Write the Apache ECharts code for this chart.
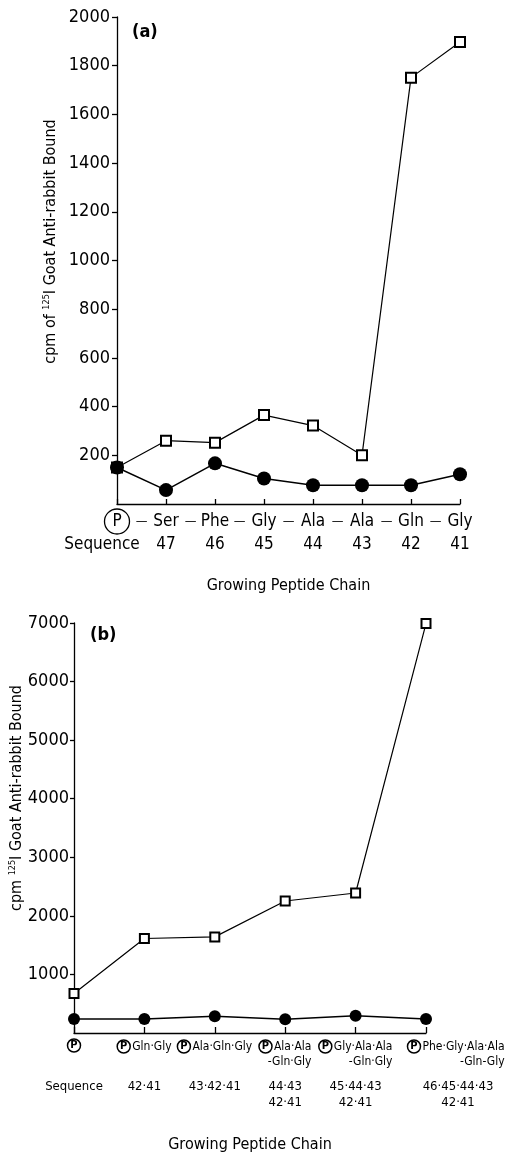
<!DOCTYPE html>
<html><head><meta charset="utf-8">
<script src="https://cdn.jsdelivr.net/npm/echarts@6/dist/echarts.min.js"></script>
<style>html,body{margin:0;padding:0;background:#fff}#c{width:507px;height:1153px}</style>
</head><body><div id="c"></div>
<script>
// ---- Panel (a) data ----
const residuesA = ['P','Ser','Phe','Gly','Ala','Ala','Gln','Gly'];
const dashesA = ['—','—','—','—','—','—','—'];
const sequenceA = ['Sequence','47','46','45','44','43','42','41'];
const squaresA = [150,260,252,365,322,200,1751,1897];
const circlesA = [150,57,167,105,77,77,77,122];
const yTicksA = [0,200,400,600,800,1000,1200,1400,1600,1800,2000];

// ---- Panel (b) data ----
const peptideLine1B = ['','Gln·Gly','Ala·Gln·Gly','Ala·Ala','Gly·Ala·Ala','Phe·Gly·Ala·Ala'];
const peptideLine2B = ['','','','-Gln·Gly','-Gln·Gly','-Gln-Gly'];
const sequenceLine1B = ['Sequence','42·41','43·42·41','44·43','45·44·43','46·45·44·43'];
const sequenceLine2B = ['','','','42·41','42·41','42·41'];
const squaresB = [676,1613,1641,2254,2390,6990];
const circlesB = [238,238,284,233,295,238];
const yTicksB = [0,1000,2000,3000,4000,5000,6000,7000];

const F = "'Liberation Sans Narrow','DejaVu Sans Condensed','Roboto Condensed',sans-serif";
const K = '#000';

const chart = echarts.init(document.getElementById('c'), null, {renderer:'canvas'});
const lastB = peptideLine1B.length - 1;
const plain = v => String(v);

const option = {
  backgroundColor:'#fff',
  animation:false,
  title:[
    {text:'(a)', left:127, top:18, textStyle:{fontFamily:F, fontSize:18, fontWeight:'bold', color:K}},
    {text:'(b)', left:85, top:621, textStyle:{fontFamily:F, fontSize:18, fontWeight:'bold', color:K}}
  ],
  grid:[
    {left:117, right:47, top:17, height:487, outerBoundsMode:'none', containLabel:false},
    {left:74, right:81, top:623, height:410, outerBoundsMode:'none', containLabel:false}
  ],
  xAxis:[
    { // A main
      type:'category', gridIndex:0, position:'bottom', data:residuesA, boundaryGap:false,
      axisLine:{onZero:false, lineStyle:{color:K, width:1.3}},
      axisTick:{inside:true, length:5, lineStyle:{color:K, width:1.3}, interval:0},
      axisLabel:{interval:0, margin:5, color:K, fontFamily:F, fontSize:17, lineHeight:26,
        formatter:(v,i)=> i===0 ? '{c|P}' : v,
        rich:{c:{width:25, height:25, lineHeight:25, align:'center', borderColor:K, borderWidth:1.3, borderRadius:12.5, fontFamily:F, fontSize:17, color:K}}},
      name:'Growing Peptide Chain', nameLocation:'middle', nameGap:74, nameMoveOverlap:false,
      nameTextStyle:{fontFamily:F, fontSize:16, color:K},
      splitLine:{show:false}
    },
    { // A dashes between residues
      type:'category', gridIndex:0, position:'bottom', data:dashesA, boundaryGap:true,
      axisLine:{show:false, onZero:false}, axisTick:{show:false},
      axisLabel:{interval:0, margin:5, color:K, fontFamily:F, fontSize:13, lineHeight:26},
      splitLine:{show:false}
    },
    { // A sequence row
      type:'category', gridIndex:0, position:'bottom', data:sequenceA, boundaryGap:false,
      axisLine:{show:false, onZero:false}, axisTick:{show:false},
      axisLabel:{interval:0, margin:31, color:K, fontFamily:F, fontSize:17, lineHeight:20,
        formatter:(v,i)=> i===0 ? '{s|'+v+'}' : v,
        rich:{s:{padding:[0,30,0,0], fontFamily:F, fontSize:17, color:K}}},
      splitLine:{show:false}
    },
    { // B main
      type:'category', gridIndex:1, position:'bottom', data:peptideLine1B, boundaryGap:false,
      axisLine:{onZero:false, lineStyle:{color:K, width:1.3}},
      axisTick:{inside:true, length:6, lineStyle:{color:K, width:1.3}, interval:0},
      axisLabel:{interval:0, margin:6, color:K, fontFamily:F, fontSize:12, lineHeight:15,
        formatter:(v,i)=>{
          let s = (i===lastB ? '{sp| }' : '') + '{c|P}' + (peptideLine1B[i] ? '{t|'+peptideLine1B[i]+'}' : '');
          if (peptideLine2B[i]) s += '\n{r|'+peptideLine2B[i]+'}';
          return s;
        },
        rich:{
          sp:{width:60},
          c:{width:13, height:13, lineHeight:13, align:'center', borderColor:K, borderWidth:1.5, borderRadius:6.5, fontFamily:F, fontSize:11, fontWeight:'bold', color:K},
          t:{fontFamily:F, fontSize:12, color:K, lineHeight:15, padding:[0,0,0,2]},
          r:{fontFamily:F, fontSize:12, color:K, lineHeight:15, align:'right'}
        }},
      name:'Growing Peptide Chain', nameLocation:'middle', nameGap:104, nameMoveOverlap:false,
      nameTextStyle:{fontFamily:F, fontSize:16, color:K},
      splitLine:{show:false}
    },
    { // B sequence row
      type:'category', gridIndex:1, position:'bottom', data:sequenceLine1B, boundaryGap:false,
      axisLine:{show:false, onZero:false}, axisTick:{show:false},
      axisLabel:{interval:0, margin:46, color:K, fontFamily:F, fontSize:13, lineHeight:16,
        formatter:(v,i)=>{
          if (i===lastB) return '{sp| }{w|'+sequenceLine1B[i]+'}\n{sp| }{w|'+sequenceLine2B[i]+'}';
          return sequenceLine2B[i] ? sequenceLine1B[i]+'\n'+sequenceLine2B[i] : sequenceLine1B[i];
        },
        rich:{sp:{width:64}, w:{width:80, align:'center', fontFamily:F, fontSize:13, color:K, lineHeight:16}}},
      splitLine:{show:false}
    }
  ],
  yAxis:[
    {
      type:'value', gridIndex:0, min:yTicksA[0], max:yTicksA[yTicksA.length-1], interval:yTicksA[1]-yTicksA[0],
      axisLine:{show:true, onZero:false, lineStyle:{color:K, width:1.3}},
      axisTick:{show:true, length:5, lineStyle:{color:K, width:1.3}},
      axisLabel:{showMinLabel:false, margin:7, color:K, fontFamily:F, fontSize:18, formatter:plain},
      splitLine:{show:false},
      name:'cpm of {sup|125}I Goat Anti-rabbit Bound', nameLocation:'middle', nameGap:58, nameRotate:90, nameMoveOverlap:false,
      nameTextStyle:{fontFamily:F, fontSize:16, color:K, padding:[0,0,0,38],
        rich:{sup:{fontFamily:F, fontSize:9, color:K, padding:[0,0,8,0]}}}
    },
    {
      type:'value', gridIndex:1, min:yTicksB[0], max:yTicksB[yTicksB.length-1], interval:yTicksB[1]-yTicksB[0],
      axisLine:{show:true, onZero:false, lineStyle:{color:K, width:1.3}},
      axisTick:{show:true, length:4, lineStyle:{color:K, width:1.3}},
      axisLabel:{showMinLabel:false, margin:5, color:K, fontFamily:F, fontSize:18, formatter:plain},
      splitLine:{show:false},
      name:'cpm {sup|125}I Goat Anti-rabbit Bound', nameLocation:'middle', nameGap:49, nameRotate:90, nameMoveOverlap:false,
      nameTextStyle:{fontFamily:F, fontSize:16, color:K, padding:[0,0,0,60],
        rich:{sup:{fontFamily:F, fontSize:9, color:K, padding:[0,0,8,0]}}}
    }
  ],
  series:[
    {type:'line', xAxisIndex:0, yAxisIndex:0, data:squaresA, symbol:'rect', symbolSize:10,
      lineStyle:{color:K, width:1.2}, itemStyle:{color:'#fff', borderColor:K, borderWidth:2}, z:2},
    {type:'line', xAxisIndex:0, yAxisIndex:0, data:circlesA, symbol:'circle', symbolSize:14,
      lineStyle:{color:K, width:1.5}, itemStyle:{color:K, borderColor:K, borderWidth:0}, z:3},
    {type:'line', xAxisIndex:3, yAxisIndex:1, data:squaresB, symbol:'rect', symbolSize:9,
      lineStyle:{color:K, width:1.2}, itemStyle:{color:'#fff', borderColor:K, borderWidth:2}, z:2},
    {type:'line', xAxisIndex:3, yAxisIndex:1, data:circlesB, symbol:'circle', symbolSize:12,
      lineStyle:{color:K, width:1.5}, itemStyle:{color:K, borderColor:K, borderWidth:0}, z:3}
  ]
};
chart.setOption(option);
</script></body></html>
